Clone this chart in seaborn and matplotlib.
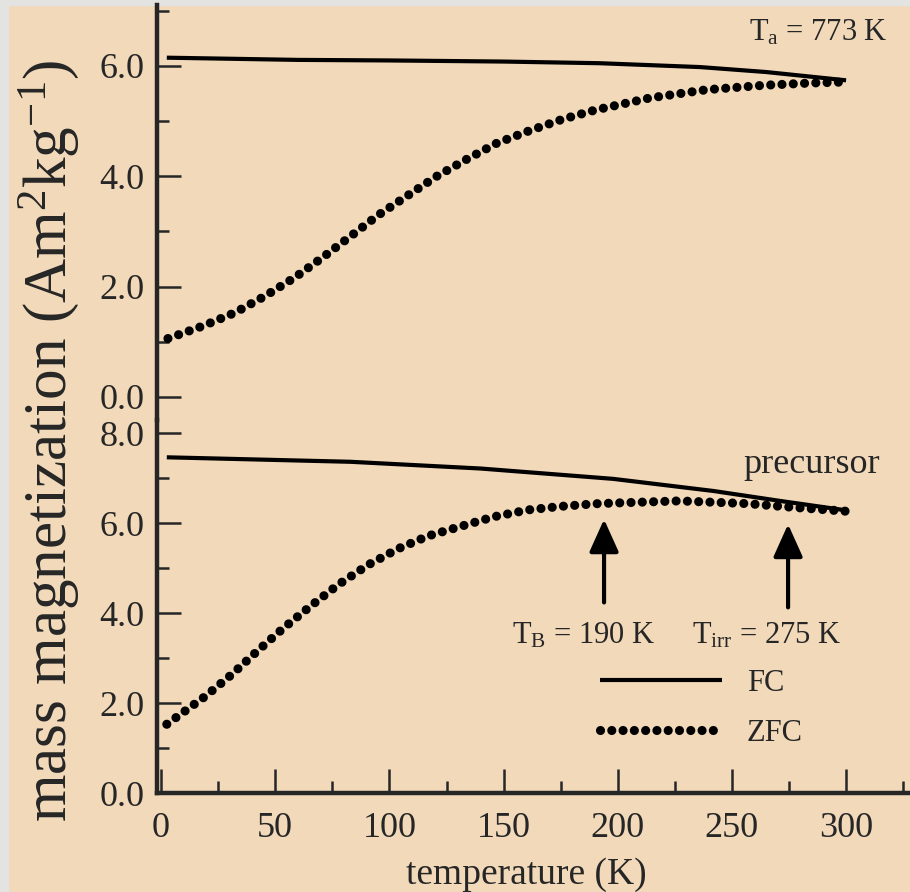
import matplotlib
matplotlib.use("Agg")
import matplotlib.pyplot as plt
from matplotlib.patches import Rectangle
from matplotlib.ticker import MultipleLocator, FormatStrFormatter
import seaborn as sns
import pandas as pd

# ---- data ----
# upper panel: annealed at Ta = 773 K
T_up_fc = [2.5, 60, 100, 150, 192, 236, 265, 300]
M_up_fc = [6.15, 6.11, 6.10, 6.08, 6.05, 5.98, 5.89, 5.74]
T_up_zfc = [3, 18.5, 32.4, 45.5, 58.7, 71.1, 83.5, 95.2, 108.3, 120.7, 133.9,
            147, 160.9, 175.5, 190, 214, 239, 264, 284, 300]
M_up_zfc = [1.06, 1.29, 1.53, 1.83, 2.17, 2.54, 2.93, 3.30, 3.66, 4.00, 4.31,
            4.60, 4.82, 5.03, 5.20, 5.42, 5.57, 5.65, 5.69, 5.71]
# lower panel: precursor
T_lo_fc = [2.5, 83, 140, 198, 242, 271, 300]
M_lo_fc = [7.47, 7.37, 7.22, 6.99, 6.72, 6.50, 6.29]
T_lo_zfc = [2.5, 19.3, 31, 42.6, 53.6, 66, 77.7, 90.8, 104, 117, 131.7, 146,
            160.8, 175.5, 191.5, 227, 256.5, 278.4, 300]
M_lo_zfc = [1.53, 2.15, 2.64, 3.18, 3.67, 4.18, 4.64, 5.08, 5.44, 5.72, 5.94,
            6.15, 6.30, 6.38, 6.44, 6.50, 6.44, 6.35, 6.27]
T_B, T_irr = 194, 274.6
x_ticks = [0, 50, 100, 150, 200, 250, 300]

TAN = "#F1D9B9"
GRAY = "#E3E3E1"

sns.set_style("ticks")
plt.rcParams["font.family"] = ["Liberation Serif", "DejaVu Serif"]
plt.rcParams["mathtext.fontset"] = "custom"
plt.rcParams["mathtext.rm"] = "Liberation Serif"
plt.rcParams["mathtext.it"] = "Liberation Serif:italic"
plt.rcParams["mathtext.default"] = "rm"

W, H = 910, 892
fig = plt.figure(figsize=(W / 100, H / 100), dpi=100, facecolor=TAN)
fig.patches.append(Rectangle((0, 0), 8 / W, 1, transform=fig.transFigure,
                             color=GRAY, zorder=-10))
fig.patches.append(Rectangle((0, 1 - 5 / H), 1, 5 / H, transform=fig.transFigure,
                             color=GRAY, zorder=-10))

left_px, right_px = 157, 910
bot_px, mid_px, top_px = 793, 420, 5
ax_lo = fig.add_axes([left_px / W, 1 - bot_px / H, (right_px - left_px) / W,
                      (bot_px - mid_px) / H])
ax_up = fig.add_axes([left_px / W, 1 - mid_px / H, (right_px - left_px) / W,
                      (mid_px - top_px) / H])

LW_FC = 3.0
LW_DOT = 6.6
DOT_STYLE = (0, (0.001, 1.23))

def draw(ax, tf, mf, tz, mz):
    sns.lineplot(x=tf, y=mf, ax=ax, color="black", lw=LW_FC, label="FC",
                 solid_capstyle="butt", sort=False)
    sns.lineplot(x=tz, y=mz, ax=ax, color="black", lw=LW_DOT, label="ZFC",
                 linestyle=DOT_STYLE, dash_capstyle="round", sort=False)

draw(ax_up, T_up_fc, M_up_fc, T_up_zfc, M_up_zfc)
draw(ax_lo, T_lo_fc, M_lo_fc, T_lo_zfc, M_lo_zfc)

xlim = (-1.8, 328)
for ax in (ax_up, ax_lo):
    ax.set_facecolor("none")
    ax.set_xlim(*xlim)
    for s in ("top", "right"):
        ax.spines[s].set_visible(False)
    for s in ("left", "bottom"):
        ax.spines[s].set_linewidth(3.2)
    ax.yaxis.set_major_locator(MultipleLocator(2))
    ax.yaxis.set_minor_locator(MultipleLocator(1))
    ax.yaxis.set_major_formatter(FormatStrFormatter("%.1f"))
    ax.tick_params(axis="y", which="major", direction="in", length=17, width=1.8,
                   labelsize=26, pad=9)
    ax.tick_params(axis="y", which="minor", direction="in", length=8.5, width=1.8)
    ax.set_ylabel("")
    ax.set_xlabel("")

ax_up.set_ylim(-0.417, 7.105)
ax_lo.set_ylim(0, 8.30)
ax_up.spines["bottom"].set_visible(False)
ax_up.tick_params(axis="x", which="both", bottom=False, labelbottom=False)
if ax_up.get_legend():
    ax_up.get_legend().remove()

ax_lo.set_xticks(x_ticks)
ax_lo.xaxis.set_minor_locator(MultipleLocator(25))
ax_lo.tick_params(axis="x", which="major", direction="in", length=17, width=1.8,
                  labelsize=26, pad=14)
ax_lo.tick_params(axis="x", which="minor", direction="in", length=8.5, width=1.8)
ax_lo.set_xlabel("temperature (K)", fontsize=27)
ax_lo.xaxis.set_label_coords((526 - left_px) / (right_px - left_px), -0.172)

fig.text(49 / W, 1 - 441 / H, r"mass magnetization (Am$^{2}$kg$^{-1}$)",
         rotation=90, ha="center", va="center", fontsize=44)

# annotations
ax_up.text(318.4, 6.47, r"T$_{\rm a}$ = 773 K", ha="right", va="baseline",
           fontsize=22)
ax_lo.text(315, 7.13, "precursor", ha="right", va="baseline", fontsize=26)
arrow_kw = dict(arrowstyle="-|>,head_length=1.0,head_width=0.45",
                mutation_scale=20, lw=3, color="black", shrinkA=0, shrinkB=0)
ax_lo.annotate("", xy=(T_B, 6.09), xytext=(T_B, 4.24), arrowprops=arrow_kw)
ax_lo.annotate("", xy=(T_irr, 5.98), xytext=(T_irr, 4.13), arrowprops=arrow_kw)
ax_lo.text(185.3, 3.33, r"T$_{\rm B}$ = 190 K", ha="center", va="baseline",
           fontsize=22)
ax_lo.text(265, 3.33, r"T$_{\rm irr}$ = 275 K", ha="center", va="baseline",
           fontsize=22)

leg = ax_lo.legend(loc="upper left", bbox_to_anchor=(600 / W, 1 - 669 / H),
                   bbox_transform=fig.transFigure, frameon=False, fontsize=22,
                   handlelength=4.0, handletextpad=0.8, labelspacing=0.68,
                   borderpad=0, borderaxespad=0)

fig.savefig("out.png", dpi=100, facecolor=TAN)
